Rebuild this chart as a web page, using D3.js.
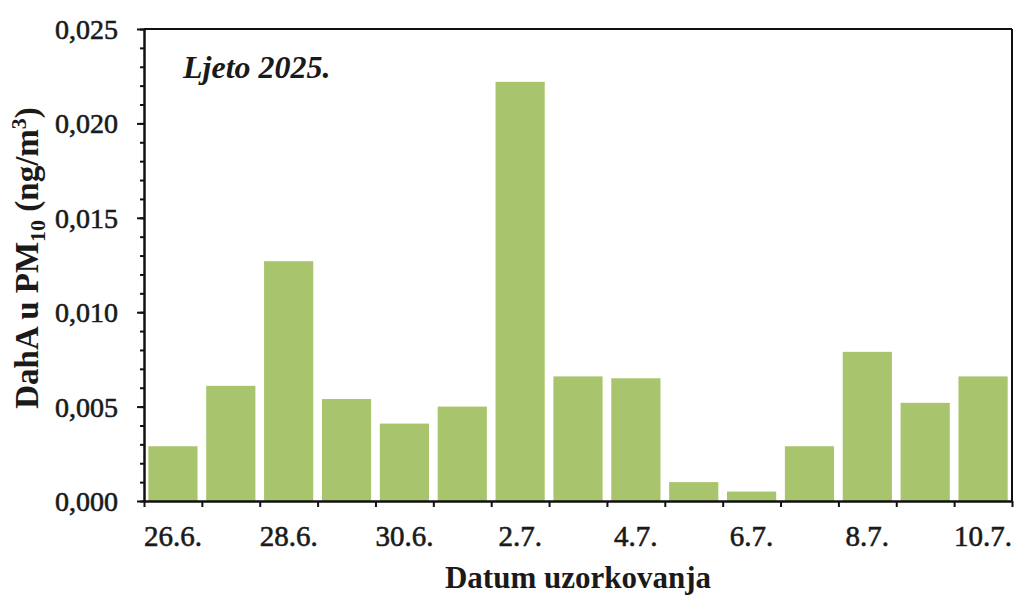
<!DOCTYPE html>
<html>
<head>
<meta charset="utf-8">
<script src="https://cdn.jsdelivr.net/npm/d3@7"></script>
<style>
  html, body { margin: 0; padding: 0; background: #fff; }
  svg { display: block; }
  text { font-family: "Liberation Serif", "Times New Roman", serif; fill: #1a1a1a; }
</style>
</head>
<body>
<svg id="chart" width="1015" height="598"></svg>
<script>
// Sampling dates (summer 2025) and DahA concentrations in PM10, ng/m3
const dates = ["26.6.", "27.6.", "28.6.", "29.6.", "30.6.", "1.7.", "2.7.", "3.7.",
               "4.7.", "5.7.", "6.7.", "7.7.", "8.7.", "9.7.", "10.7."];
const values = [0.0029, 0.0061, 0.0127, 0.0054, 0.0041, 0.0050, 0.0222, 0.0066,
                0.0065, 0.0010, 0.0005, 0.0029, 0.0079, 0.0052, 0.0066];
const labelledDates = ["26.6.", "28.6.", "30.6.", "2.7.", "4.7.", "6.7.", "8.7.", "10.7."];
const yTicks = [0, 0.005, 0.010, 0.015, 0.020, 0.025];

const margin = { left: 144, right: 1012, top: 29, bottom: 501 };
const svg = d3.select("#chart");

const x = d3.scaleBand()
  .domain(dates)
  .range([margin.left, margin.right])
  .paddingInner(0.15)
  .paddingOuter(0.075);

// boundary positions between categories, for the tick marks
const xEdge = d3.scaleLinear().domain([0, dates.length]).range([margin.left, margin.right]);

const y = d3.scaleLinear().domain([0, 0.025]).range([margin.bottom, margin.top]);

const fmt = v => d3.format(".3f")(v).replace(".", ",");

// bars
svg.append("g")
  .selectAll("rect")
  .data(values)
  .join("rect")
  .attr("x", (d, i) => x(dates[i]))
  .attr("width", x.bandwidth())
  .attr("y", d => y(d))
  .attr("height", d => y(0) - y(d))
  .attr("fill", "#a8c46c");

// frame: top and right edges
svg.append("line")
  .attr("x1", margin.left).attr("x2", margin.right)
  .attr("y1", margin.top).attr("y2", margin.top)
  .attr("stroke", "#111").attr("stroke-width", 2);
svg.append("line")
  .attr("x1", margin.right).attr("x2", margin.right)
  .attr("y1", margin.top).attr("y2", margin.bottom)
  .attr("stroke", "#111").attr("stroke-width", 2);

// minor y ticks
const yMinor = svg.append("g")
  .attr("transform", `translate(${margin.left},0)`)
  .call(d3.axisLeft(y).tickValues(d3.range(0, 26).map(i => i / 1000)).tickSize(4).tickFormat(""));
yMinor.select(".domain").remove();
yMinor.selectAll("line").attr("stroke", "#111").attr("stroke-width", 2);

// major y axis
const yAxis = svg.append("g")
  .attr("transform", `translate(${margin.left},0)`)
  .call(d3.axisLeft(y).tickValues(yTicks).tickSize(7).tickSizeOuter(0).tickPadding(19).tickFormat(fmt));
yAxis.select(".domain").attr("stroke", "#111").attr("stroke-width", 2.5);
yAxis.selectAll(".tick line").attr("stroke", "#111").attr("stroke-width", 2);
yAxis.selectAll("text")
  .style("font-family", "'Liberation Serif', serif")
  .style("font-size", "28px")
  .attr("fill", "#1a1a1a")
  .attr("stroke", "#1a1a1a")
  .attr("stroke-width", 0.6)
  .attr("dy", "0.34em");

// x tick marks at category boundaries
const xMarks = svg.append("g")
  .attr("transform", `translate(0,${margin.bottom})`)
  .call(d3.axisBottom(xEdge).tickValues(d3.range(dates.length + 1)).tickSize(6).tickSizeOuter(0).tickFormat(""));
xMarks.select(".domain").attr("stroke", "#111").attr("stroke-width", 2.5);
xMarks.selectAll(".tick line").attr("stroke", "#111").attr("stroke-width", 2);

// x labels for every other date
const xLabels = svg.append("g")
  .attr("transform", `translate(0,${margin.bottom})`)
  .call(d3.axisBottom(x).tickValues(labelledDates).tickSize(0).tickPadding(24));
xLabels.select(".domain").remove();
xLabels.selectAll("text")
  .style("font-family", "'Liberation Serif', serif")
  .style("font-size", "29px")
  .attr("fill", "#1a1a1a")
  .attr("stroke", "#1a1a1a")
  .attr("stroke-width", 0.6);

// season label
svg.append("text")
  .attr("x", 183).attr("y", 78)
  .style("font-size", "32px")
  .style("font-weight", "bold")
  .style("font-style", "italic")
  .text("Ljeto 2025.");

// x-axis title
svg.append("text")
  .attr("x", (margin.left + margin.right) / 2)
  .attr("y", 588)
  .attr("text-anchor", "middle")
  .style("font-size", "31px")
  .style("font-weight", "bold")
  .text("Datum uzorkovanja");

// y-axis title with subscript and superscript
const yTitle = svg.append("text")
  .attr("transform", `translate(38,${(margin.top + margin.bottom) / 2 - 7}) rotate(-90)`)
  .attr("text-anchor", "middle")
  .style("font-size", "33px")
  .style("font-weight", "bold");
yTitle.append("tspan").text("DahA u PM");
yTitle.append("tspan").attr("dy", 7).style("font-size", "22px").text("10");
yTitle.append("tspan").attr("dy", -7).text(" (ng/m");
yTitle.append("tspan").attr("dy", -12).style("font-size", "22px").text("3");
yTitle.append("tspan").attr("dy", 12).text(")");
</script>
</body>
</html>
